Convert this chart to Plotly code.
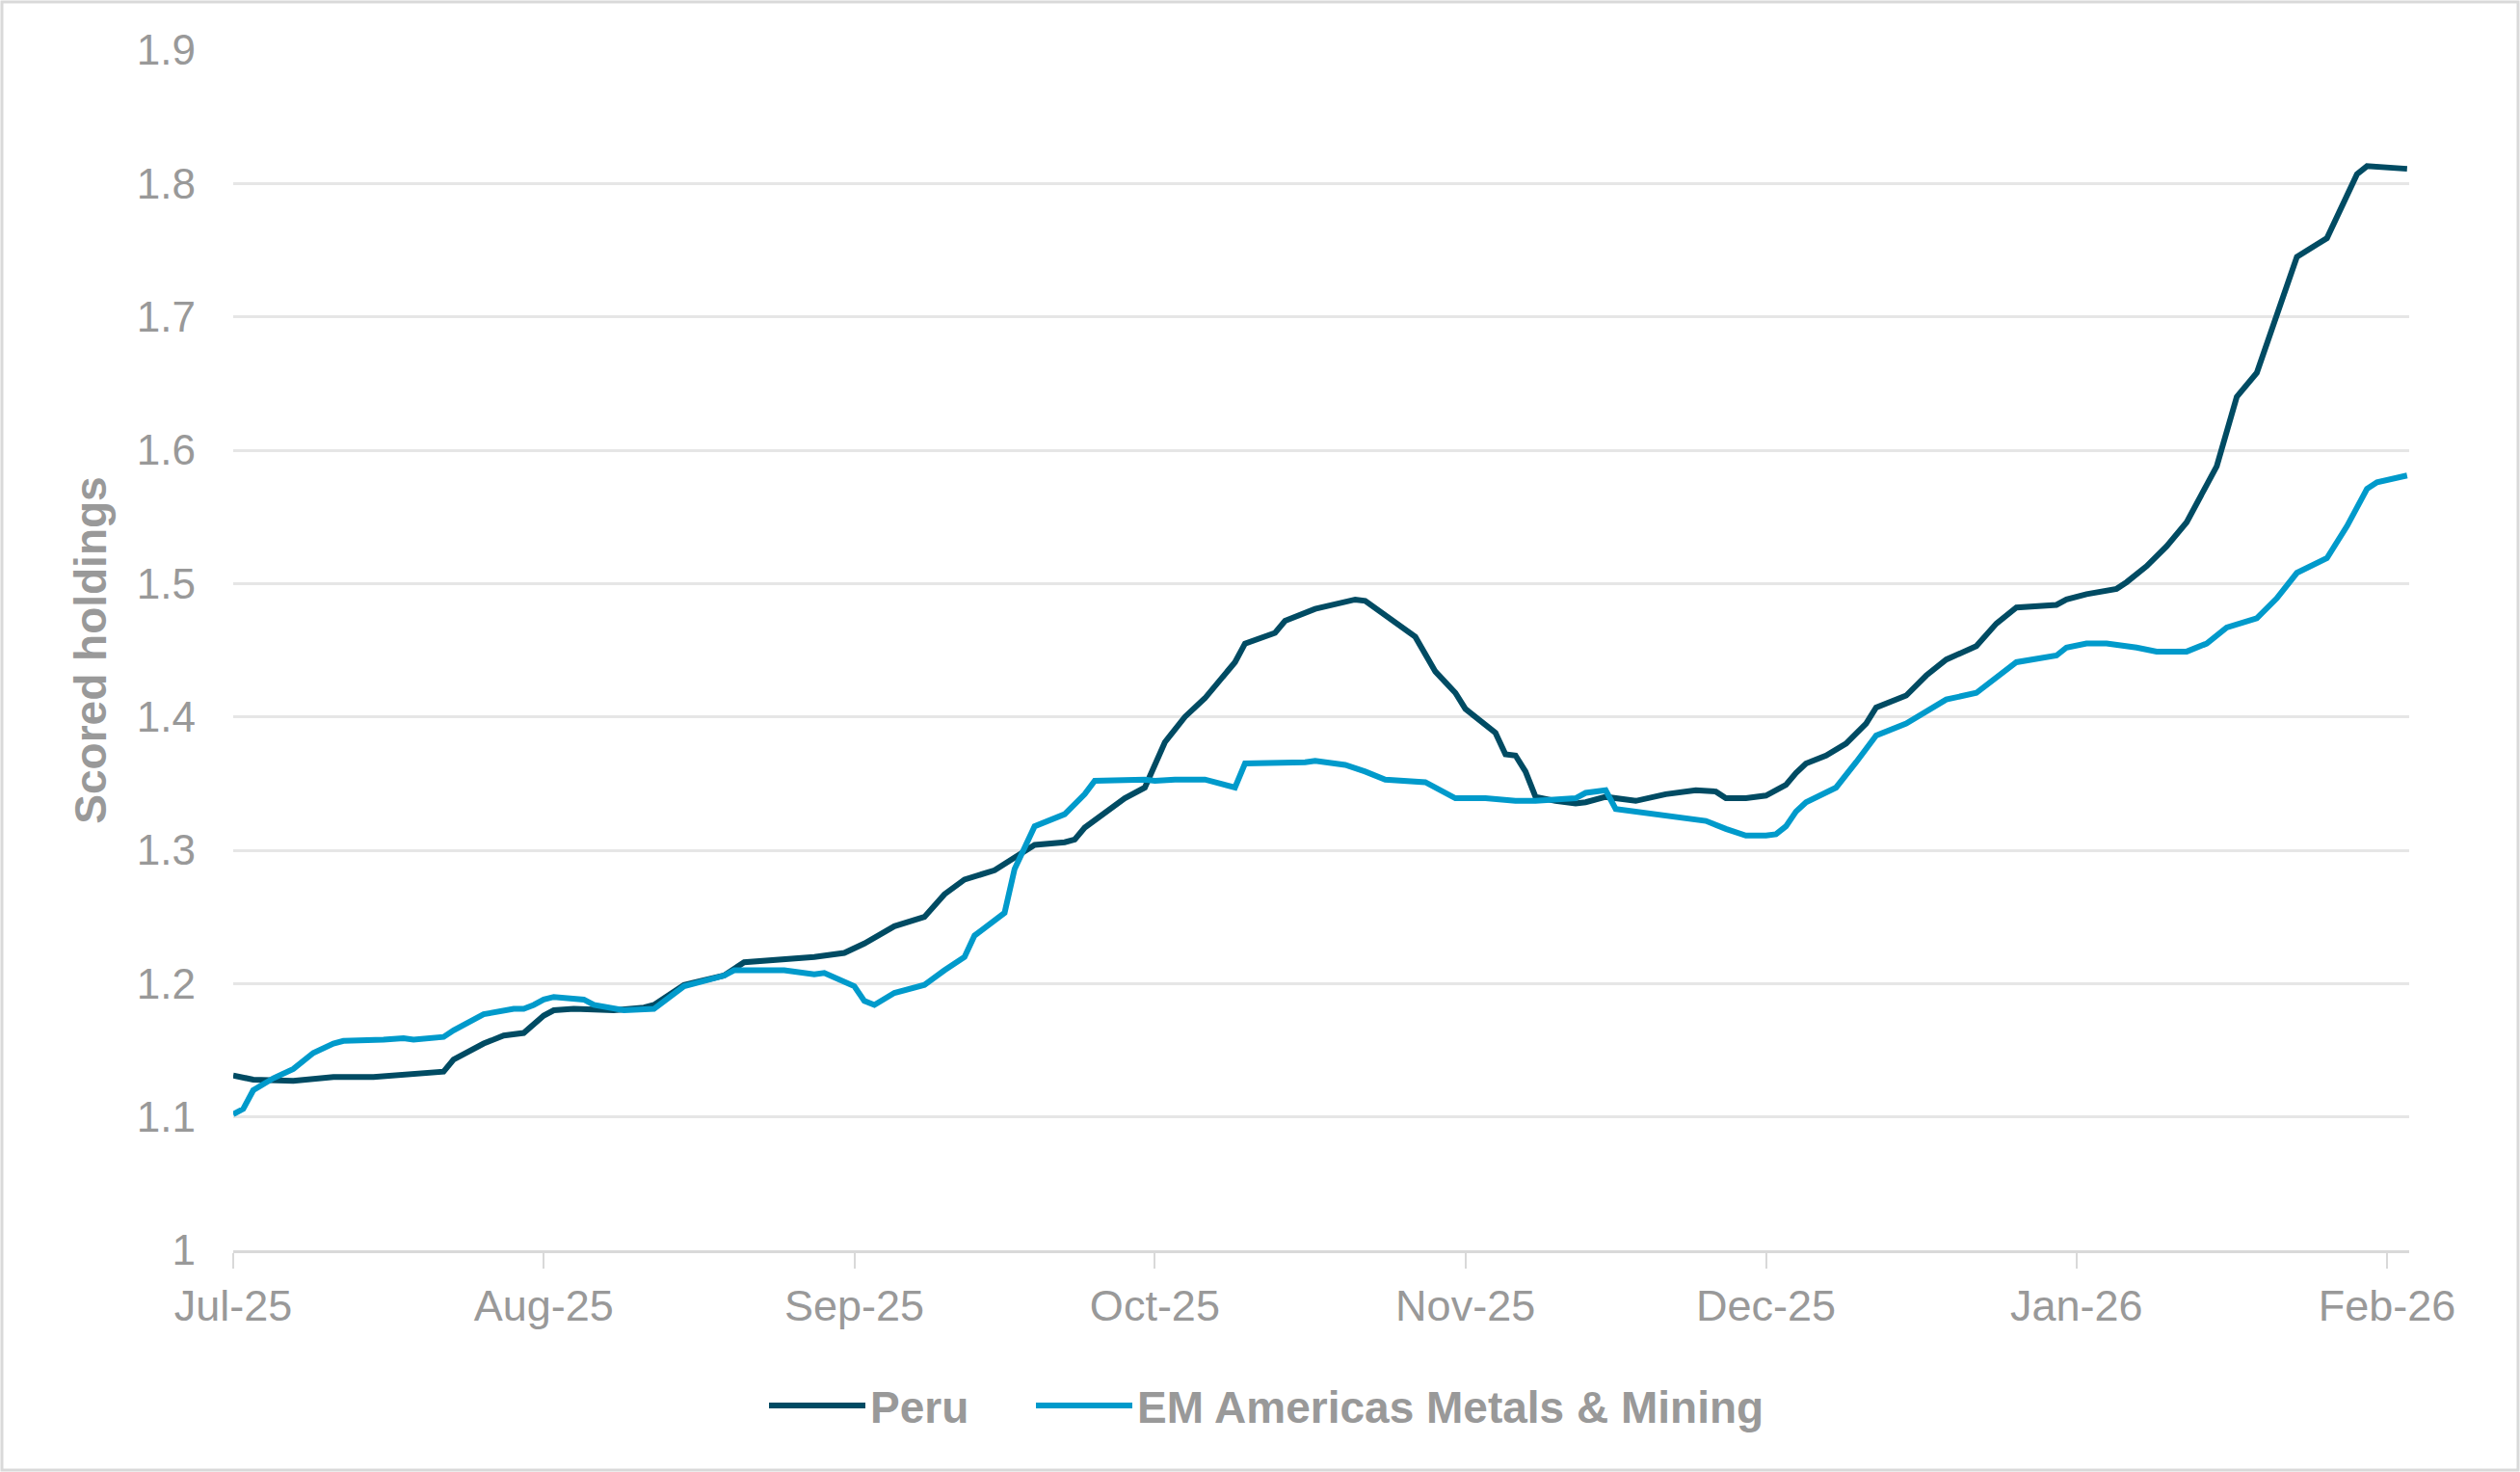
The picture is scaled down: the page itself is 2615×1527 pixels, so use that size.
import plotly.graph_objects as go

peru_dates = [
    "2025-07-01", "2025-07-03", "2025-07-07", "2025-07-11", "2025-07-15", "2025-07-19",
    "2025-07-22", "2025-07-23", "2025-07-26", "2025-07-28", "2025-07-30", "2025-08-01",
    "2025-08-02", "2025-08-04", "2025-08-08", "2025-08-11", "2025-08-12", "2025-08-15",
    "2025-08-19", "2025-08-21", "2025-08-25", "2025-08-28", "2025-08-31", "2025-09-02",
    "2025-09-05", "2025-09-08", "2025-09-10", "2025-09-12", "2025-09-15", "2025-09-17",
    "2025-09-19", "2025-09-22", "2025-09-23", "2025-09-24", "2025-09-27", "2025-09-28",
    "2025-09-30", "2025-10-01", "2025-10-02", "2025-10-04", "2025-10-06", "2025-10-09",
    "2025-10-10", "2025-10-13", "2025-10-14", "2025-10-17", "2025-10-20", "2025-10-21",
    "2025-10-22", "2025-10-25", "2025-10-27", "2025-10-29", "2025-10-31", "2025-11-01",
    "2025-11-04", "2025-11-05", "2025-11-06", "2025-11-07", "2025-11-08", "2025-11-10",
    "2025-11-12", "2025-11-13", "2025-11-15", "2025-11-18", "2025-11-21", "2025-11-24",
    "2025-11-26", "2025-11-27", "2025-11-29", "2025-12-01", "2025-12-03", "2025-12-04",
    "2025-12-05", "2025-12-07", "2025-12-09", "2025-12-11", "2025-12-12", "2025-12-15",
    "2025-12-17", "2025-12-19", "2025-12-22", "2025-12-24", "2025-12-26", "2025-12-30",
    "2025-12-31", "2026-01-02", "2026-01-05", "2026-01-06", "2026-01-08", "2026-01-10",
    "2026-01-12", "2026-01-15", "2026-01-17", "2026-01-19", "2026-01-21", "2026-01-23",
    "2026-01-26", "2026-01-29", "2026-01-30", "2026-02-03",
]
peru_values = [
    1.131, 1.128, 1.127, 1.130, 1.130, 1.132,
    1.134, 1.143, 1.155, 1.161, 1.163, 1.176,
    1.180, 1.181, 1.180, 1.182, 1.184, 1.199,
    1.206, 1.216, 1.218, 1.220, 1.223, 1.230,
    1.243, 1.250, 1.267, 1.278, 1.285, 1.294,
    1.304, 1.306, 1.308, 1.317, 1.333, 1.339,
    1.347, 1.364, 1.381, 1.400, 1.414, 1.441,
    1.455, 1.463, 1.472, 1.481, 1.486, 1.488,
    1.487, 1.470, 1.460, 1.434, 1.418, 1.406,
    1.388, 1.372, 1.371, 1.359, 1.340, 1.337,
    1.335, 1.336, 1.340, 1.337, 1.342, 1.345,
    1.344, 1.339, 1.339, 1.341, 1.349, 1.358,
    1.365, 1.371, 1.380, 1.395, 1.407, 1.416,
    1.431, 1.443, 1.453, 1.470, 1.482, 1.484,
    1.488, 1.492, 1.496, 1.501, 1.513, 1.528,
    1.546, 1.588, 1.640, 1.658, 1.701, 1.745,
    1.759, 1.807, 1.813, 1.811,
]

em_dates = [
    "2025-07-01", "2025-07-02", "2025-07-03", "2025-07-05", "2025-07-07", "2025-07-09",
    "2025-07-11", "2025-07-12", "2025-07-16", "2025-07-18", "2025-07-19", "2025-07-22",
    "2025-07-23", "2025-07-26", "2025-07-29", "2025-07-30", "2025-07-31", "2025-08-01",
    "2025-08-02", "2025-08-05", "2025-08-06", "2025-08-09", "2025-08-12", "2025-08-15",
    "2025-08-19", "2025-08-20", "2025-08-25", "2025-08-28", "2025-08-29", "2025-09-01",
    "2025-09-02", "2025-09-03", "2025-09-05", "2025-09-08", "2025-09-10", "2025-09-12",
    "2025-09-13", "2025-09-16", "2025-09-17", "2025-09-19", "2025-09-22", "2025-09-24",
    "2025-09-25", "2025-09-28", "2025-09-30", "2025-10-01", "2025-10-03", "2025-10-06",
    "2025-10-08", "2025-10-09", "2025-10-10", "2025-10-13", "2025-10-16", "2025-10-17",
    "2025-10-20", "2025-10-22", "2025-10-24", "2025-10-28", "2025-10-30", "2025-10-31",
    "2025-11-03", "2025-11-06", "2025-11-08", "2025-11-12", "2025-11-13", "2025-11-15",
    "2025-11-16", "2025-11-18", "2025-11-21", "2025-11-22", "2025-11-25", "2025-11-27",
    "2025-11-29", "2025-12-01", "2025-12-02", "2025-12-03", "2025-12-04", "2025-12-05",
    "2025-12-08", "2025-12-10", "2025-12-12", "2025-12-15", "2025-12-17", "2025-12-19",
    "2025-12-22", "2025-12-24", "2025-12-26", "2025-12-30", "2025-12-31", "2026-01-02",
    "2026-01-04", "2026-01-07", "2026-01-09", "2026-01-12", "2026-01-14", "2026-01-16",
    "2026-01-19", "2026-01-21", "2026-01-23", "2026-01-26", "2026-01-28", "2026-01-30",
    "2026-01-31", "2026-02-03",
]
em_values = [
    1.102, 1.106, 1.120, 1.129, 1.136, 1.148,
    1.155, 1.157, 1.158, 1.159, 1.158, 1.160,
    1.165, 1.177, 1.181, 1.181, 1.184, 1.188,
    1.190, 1.188, 1.184, 1.180, 1.181, 1.198,
    1.206, 1.210, 1.210, 1.207, 1.208, 1.198,
    1.187, 1.184, 1.193, 1.199, 1.210, 1.220,
    1.236, 1.253, 1.286, 1.318, 1.327, 1.342,
    1.352, 1.353, 1.353, 1.352, 1.353, 1.353,
    1.349, 1.347, 1.365, 1.365, 1.366, 1.367,
    1.364, 1.359, 1.353, 1.351, 1.343, 1.339,
    1.339, 1.337, 1.337, 1.339, 1.343, 1.345,
    1.331, 1.329, 1.326, 1.324, 1.322, 1.316,
    1.311, 1.311, 1.312, 1.318, 1.329, 1.336,
    1.347, 1.366, 1.386, 1.395, 1.404, 1.413,
    1.418, 1.430, 1.441, 1.446, 1.452, 1.455,
    1.455, 1.452, 1.449, 1.449, 1.455, 1.467,
    1.474, 1.489, 1.508, 1.519, 1.543, 1.571,
    1.576, 1.581,
]

series_names = ["Peru", "EM Americas Metals & Mining"]
series_colors = ["#004B63", "#009ACB"]

y_ticks = [1, 1.1, 1.2, 1.3, 1.4, 1.5, 1.6, 1.7, 1.8, 1.9]
y_tick_labels = ["1", "1.1", "1.2", "1.3", "1.4", "1.5", "1.6", "1.7", "1.8", "1.9"]
x_ticks = ["2025-07-01", "2025-08-01", "2025-09-01", "2025-10-01", "2025-11-01",
           "2025-12-01", "2026-01-01", "2026-02-01"]
x_tick_labels = ["Jul-25", "Aug-25", "Sep-25", "Oct-25", "Nov-25", "Dec-25", "Jan-26", "Feb-26"]

W, H = 2615, 1527
ML, MR, MT, MB = 242, 115, 52, 230
TXT = "#999999"
FONT = "Liberation Sans, Arial, sans-serif"

pw = W - ML - MR
ph = H - MT - MB

fig = go.Figure()
for d, v, n, c, lg in [(peru_dates, peru_values, series_names[0], series_colors[0], "legend"),
                       (em_dates, em_values, series_names[1], series_colors[1], "legend2")]:
    fig.add_trace(go.Scatter(x=d, y=v, name=n, mode="lines", legend=lg,
                             line=dict(color=c, width=6)))

fig.add_shape(type="rect", xref="paper", yref="paper",
              x0=-(ML - 2) / pw, x1=1 + (MR - 2) / pw,
              y0=-(MB - 2) / ph, y1=1 + (MT - 2) / ph,
              line=dict(color="#d9d9d9", width=3), fillcolor="rgba(0,0,0,0)", layer="below")

legend_lefts_px = [793, 1070]
legend_mid_y_px = 1458


def legend_style(left_px):
    return dict(orientation="h",
                x=(left_px - ML) / pw, xanchor="left",
                y=-(legend_mid_y_px - (H - MB)) / ph, yanchor="middle",
                font=dict(family=FONT, size=46, color=TXT, weight="bold"),
                itemwidth=100, tracegroupgap=0, bgcolor="rgba(0,0,0,0)")


fig.update_layout(
    width=W, height=H,
    margin=dict(l=ML, r=MR, t=MT, b=MB, pad=0),
    paper_bgcolor="white", plot_bgcolor="white",
    font=dict(family=FONT, color=TXT, size=44),
    showlegend=True,
    legend=legend_style(legend_lefts_px[0]),
    legend2=legend_style(legend_lefts_px[1]),
    xaxis=dict(type="date", range=["2025-07-01", "2026-02-03 05:00"],
               tickvals=x_ticks, ticktext=x_tick_labels,
               showgrid=False, zeroline=False,
               showline=True, linecolor="#d9d9d9", linewidth=3,
               ticks="outside", ticklen=16, tickwidth=2, tickcolor="#d9d9d9",
               tickfont=dict(family=FONT, size=45, color=TXT),
               ticklabelstandoff=0),
    yaxis=dict(range=[1, 1.9], tickvals=y_ticks, ticktext=y_tick_labels,
               showgrid=True, gridcolor="#e6e6e6", gridwidth=3,
               zeroline=False, showline=False, ticks="",
               tickfont=dict(family=FONT, size=44, color=TXT),
               ticklabelstandoff=38,
               title=dict(text="Scored holdings", standoff=16,
                          font=dict(family=FONT, size=46, color=TXT, weight="bold"))),
)

fig.write_html("out.html", config={"displayModeBar": False},
               post_script="document.body.style.margin='0';document.body.style.padding='0';")
